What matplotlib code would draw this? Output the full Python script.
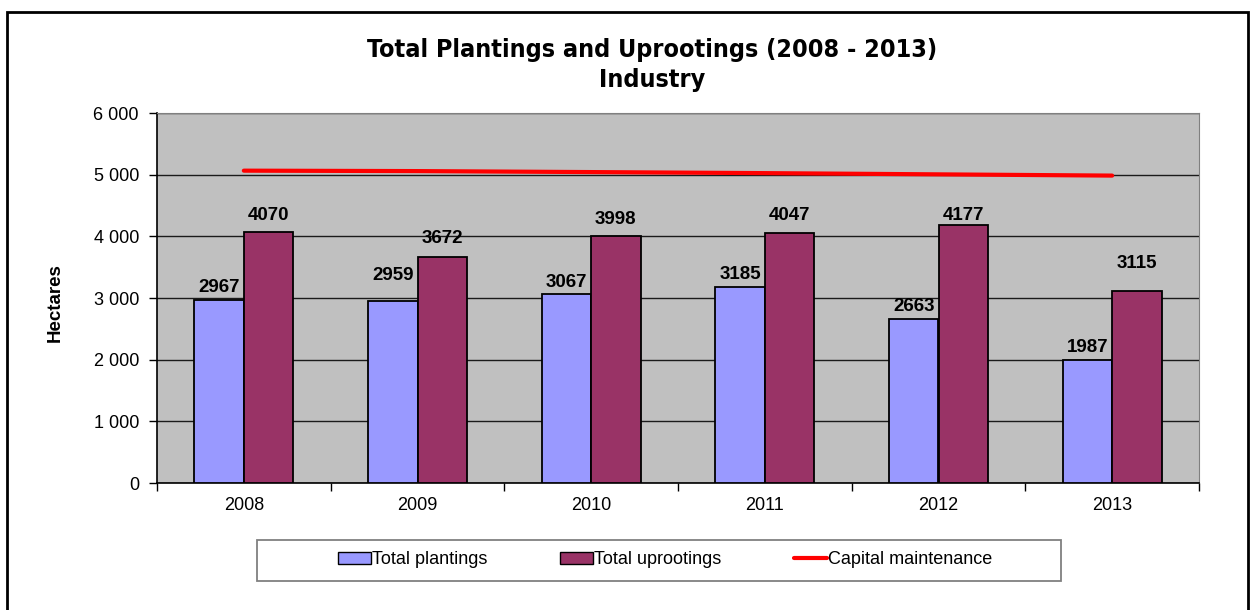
import matplotlib
matplotlib.use("Agg")
import matplotlib.pyplot as plt
import numpy as np
from matplotlib.patches import Rectangle, Patch
from matplotlib.lines import Line2D

# Hectares per year
years = ["2008", "2009", "2010", "2011", "2012", "2013"]
plantings = [2967, 2959, 3067, 3185, 2663, 1987]
uprootings = [4070, 3672, 3998, 4047, 4177, 3115]
capital_maintenance = [5065, 5058, 5042, 5025, 5005, 4985]

# label lift above bar tops, in points
plant_label_lift = [9, 18, 8, 9, 9, 9]
uproot_label_lift = [12, 13, 12, 13, 7, 20]

plt.rcParams['font.family'] = ['Liberation Sans', 'DejaVu Sans']

fig = plt.figure(figsize=(12.5, 6.1), dpi=100)
ax = fig.add_axes([157 / 1250, 1 - 483 / 610, (1199 - 157) / 1250, (483 - 113) / 610])
ax.set_facecolor('#C0C0C0')

x = np.arange(len(years))
w = 0.285
b1 = ax.bar(x - w / 2, plantings, w, color='#9999FF', edgecolor='black', linewidth=1.3, zorder=3)
b2 = ax.bar(x + w / 2, uprootings, w, color='#993366', edgecolor='black', linewidth=1.3, zorder=3)
ax.plot(x, capital_maintenance, color='#FF0000', linewidth=3, solid_capstyle='round', zorder=4)

for bars, vals, lifts in ((b1, plantings, plant_label_lift), (b2, uprootings, uproot_label_lift)):
    for bar, v, lift in zip(bars, vals, lifts):
        ax.annotate(f'{v}', (bar.get_x() + bar.get_width() / 2, v),
                    xytext=(0, lift), textcoords='offset points',
                    ha='center', va='center', fontsize=13.5, fontweight='bold', zorder=5)

ax.set_xlim(-0.5, len(years) - 0.5)
ax.set_ylim(0, 6000)
ax.set_yticks(np.arange(0, 6001, 1000))
ax.set_yticklabels([f'{v:,}'.replace(',', ' ') for v in range(0, 6001, 1000)])
ax.yaxis.grid(True, color='#1a1a1a', linewidth=1.0, zorder=1)
ax.set_axisbelow(True)

ax.set_xticks(np.arange(-0.5, len(years)))
ax.set_xticklabels([])
ax.set_xticks(x, minor=True)
ax.set_xticklabels(years, minor=True)
ax.tick_params(axis='x', which='minor', length=0, pad=10, labelsize=13)
ax.tick_params(axis='x', which='major', length=6, width=1, direction='out')
ax.tick_params(axis='y', length=6, width=1, direction='out', labelsize=13, pad=7)

for side in ('top', 'right'):
    ax.spines[side].set_color('#808080')
for side in ('left', 'bottom'):
    ax.spines[side].set_color('black')
    ax.spines[side].set_linewidth(1.2)

# titles
fig.text(652 / 1250, 1 - 50 / 610, 'Total Plantings and Uprootings (2008 - 2013)',
         ha='center', va='center', fontsize=18, fontweight='bold',
         family='DejaVu Sans', fontstretch='condensed')
fig.text(652 / 1250, 1 - 80 / 610, 'Industry',
         ha='center', va='center', fontsize=18, fontweight='bold',
         family='DejaVu Sans', fontstretch='condensed')
fig.text(55 / 1250, 1 - 303 / 610, 'Hectares', rotation=90,
         ha='center', va='center', fontsize=13.5, fontweight='bold')

# legend box and entries
fig.add_artist(Rectangle((257 / 1250, 1 - 581 / 610), (1061 - 257) / 1250, 41 / 610,
                         transform=fig.transFigure, facecolor='white',
                         edgecolor='#808080', linewidth=1.3))
handles = [Patch(facecolor='#9999FF', edgecolor='black', linewidth=1),
           Patch(facecolor='#993366', edgecolor='black', linewidth=1),
           Line2D([], [], color='#FF0000', linewidth=3, solid_capstyle='round')]
fig.legend(handles, ['Total plantings', 'Total uprootings', 'Capital maintenance'],
           loc='center', bbox_to_anchor=(665 / 1250, 1 - 560 / 610), ncol=3,
           frameon=False, fontsize=13, handlelength=1.85, handleheight=0.6,
           handletextpad=0.05, columnspacing=4.0)

# outer chart border
fig.add_artist(Rectangle((7 / 1250, -0.02), (1248 - 7) / 1250, (610 - 12) / 610 + 0.02,
                         transform=fig.transFigure, facecolor='none',
                         edgecolor='black', linewidth=2, clip_on=False))

fig.savefig('out.png', dpi=100)
